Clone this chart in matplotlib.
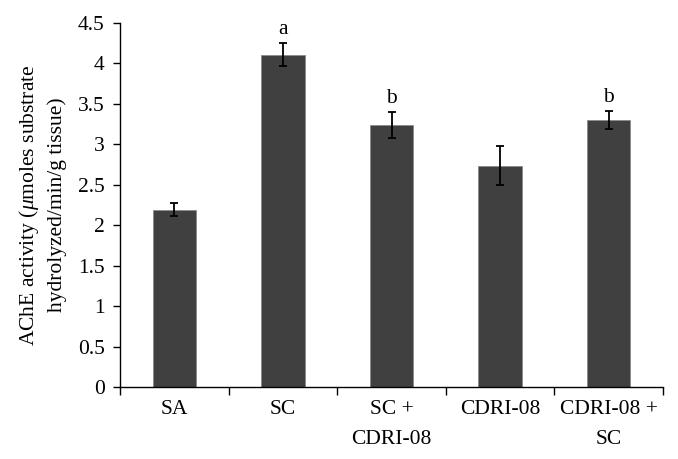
import numpy as np
import matplotlib
matplotlib.use("Agg")
import matplotlib.pyplot as plt

categories = ["SA", "SC", "SC +\nCDRI-08", "CDRI-08", "CDRI-08 +\nSC"]
values = [2.19, 4.11, 3.235, 2.735, 3.30]
errors = [0.08, 0.14, 0.16, 0.24, 0.115]
letters = ["", "a", "b", "", "b"]
yticks = [0, 0.5, 1, 1.5, 2, 2.5, 3, 3.5, 4, 4.5]
ytick_labels = ["0", "0.5", "1", "1.5", "2", "2.5", "3", "3.5", "4", "4.5"]

plt.rcParams['font.family'] = ['Liberation Serif', 'DejaVu Serif']
plt.rcParams['mathtext.fontset'] = 'custom'
plt.rcParams['mathtext.rm'] = 'Liberation Serif'
plt.rcParams['mathtext.it'] = 'Liberation Serif:italic'

W, H = 678, 459
fig = plt.figure(figsize=(W / 100, H / 100), dpi=100)
ax = fig.add_axes([120 / W, 1 - 387 / H, (663 - 120) / W, (387 - 23) / H])

x = np.arange(len(categories))
ax.bar(x, values, width=0.40, color='#404040', edgecolor='#8a8a8a', linewidth=0.6, zorder=2)
ax.errorbar(x, values, yerr=errors, fmt='none', ecolor='black', elinewidth=1.3,
            capsize=3, capthick=1.3, zorder=3)

for xi, v, e, t in zip(x, values, errors, letters):
    if t:
        ax.annotate(t, (xi, v + e), xytext=(0, 6.5), textcoords='offset points',
                    ha='center', va='baseline', fontsize=15.5)

ax.set_xlim(-0.5, len(categories) - 0.5)
ax.set_ylim(0, 4.5)
ax.set_yticks(yticks)
ax.set_yticklabels(ytick_labels)

# boundary ticks (major) and centered labels (minor)
ax.set_xticks(np.arange(len(categories) + 1) - 0.5)
ax.set_xticklabels([])
ax.set_xticks(x, minor=True)
ax.set_xticklabels(categories, minor=True, linespacing=1.85)
ax.tick_params(axis='x', which='minor', length=0, pad=9, labelsize=15.5)
ax.tick_params(axis='x', which='major', length=6, width=1, direction='out')
ax.tick_params(axis='y', length=5, width=1, direction='out', labelsize=15.5, pad=6)

for s in ['top', 'right']:
    ax.spines[s].set_visible(False)
for s in ['left', 'bottom']:
    ax.spines[s].set_linewidth(1.0)
    ax.spines[s].set_color('black')

fig.text(42 / W, 1 - 205 / H,
         "AChE activity ($\\mu$moles substrate\nhydrolyzed/min/g tissue)",
         rotation=90, ha='center', va='center', multialignment='center',
         fontsize=15.5, linespacing=1.4)

fig.savefig("out.png", dpi=100)
